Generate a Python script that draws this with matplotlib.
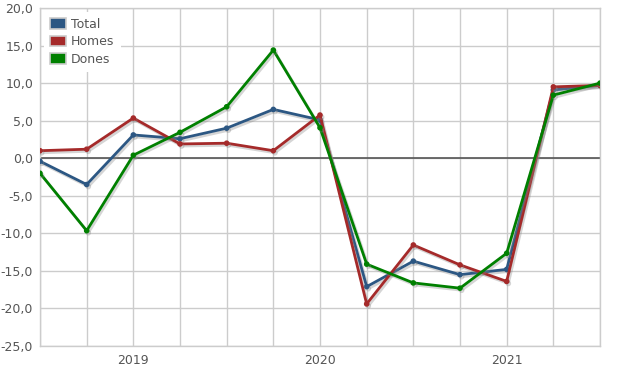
import matplotlib
matplotlib.use("Agg")
import matplotlib.pyplot as plt
import matplotlib.patheffects as pe
from matplotlib.patches import Patch
from matplotlib.ticker import FuncFormatter

quarters = ["2018T3", "2018T4", "2019T1", "2019T2", "2019T3", "2019T4",
            "2020T1", "2020T2", "2020T3", "2020T4", "2021T1", "2021T2", "2021T3"]
total = [-0.4, -3.5, 3.1, 2.6, 4.0, 6.5, 5.1, -17.1, -13.7, -15.5, -14.8, 9.1, 9.7]
homes = [1.0, 1.2, 5.35, 1.9, 2.0, 1.0, 5.75, -19.4, -11.55, -14.2, -16.4, 9.5, 9.7]
dones = [-2.0, -9.65, 0.4, 3.45, 6.85, 14.4, 4.06, -14.1, -16.6, -17.3, -12.65, 8.4, 10.0]
series_names = ["Total", "Homes", "Dones"]
year_labels = ["2019", "2020", "2021"]
year_positions = [2, 6, 10]
colors = ["#2c5783", "#a52a2a", "#008000"]

fig = plt.figure(figsize=(6.28, 3.72), dpi=100)
ax = fig.add_axes([40 / 628, 26 / 372, 560 / 628, 338 / 372])

x = list(range(len(quarters)))
shadow = [pe.SimplePatchShadow(offset=(1.2, -1.2), shadow_rgbFace="#999999", alpha=0.35), pe.Normal()]
for vals, col, name in zip([total, homes, dones], colors, series_names):
    ax.plot(x, vals, color=col, lw=2, marker="o", ms=3, zorder=3, label=name,
            path_effects=[pe.SimpleLineShadow(offset=(1.2, -1.5), shadow_color="#888888", alpha=0.35), pe.Normal()])

ax.set_xlim(0, len(quarters) - 1)
ax.set_ylim(-25, 20)
ax.set_yticks(range(-25, 21, 5))
ax.yaxis.set_major_formatter(FuncFormatter(lambda v, p: f"{v:.1f}".replace(".", ",")))
ax.set_xticks(x, minor=False)
ax.set_xticklabels(["" for _ in x])
for pos, lab in zip(year_positions, year_labels):
    ax.text(pos, -25, lab, ha="center", va="top", fontsize=9, color="#555555",
            transform=ax.transData).set_y(-25)
ax.grid(True, color="#cccccc", lw=1)
ax.set_axisbelow(True)
ax.axhline(0, color="#555555", lw=1.2, zorder=2)
for s in ax.spines.values():
    s.set_color("#cccccc")
    s.set_linewidth(1)
ax.tick_params(axis="both", length=0, labelsize=9, labelcolor="#555555")
ax.tick_params(axis="y", pad=5)
# year labels offset below axis
for t in ax.texts:
    t.set_transform(ax.transData + matplotlib.transforms.ScaledTranslation(0, -6 / 72, fig.dpi_scale_trans))

handles = [Patch(facecolor=c, edgecolor="#cccccc", lw=1.2) for c in colors]
leg = ax.legend(handles, series_names, loc="upper left", bbox_to_anchor=(0.0, 1.0),
                frameon=True, fontsize=9, handlelength=1.3, handleheight=0.95,
                handletextpad=0.4, labelspacing=0.35, borderpad=0.5, borderaxespad=0.3)
leg.get_frame().set_edgecolor("none")
leg.get_frame().set_facecolor("white")
leg.get_frame().set_alpha(1)
for t in leg.get_texts():
    t.set_color("#555555")

fig.savefig("out.png", dpi=100)
